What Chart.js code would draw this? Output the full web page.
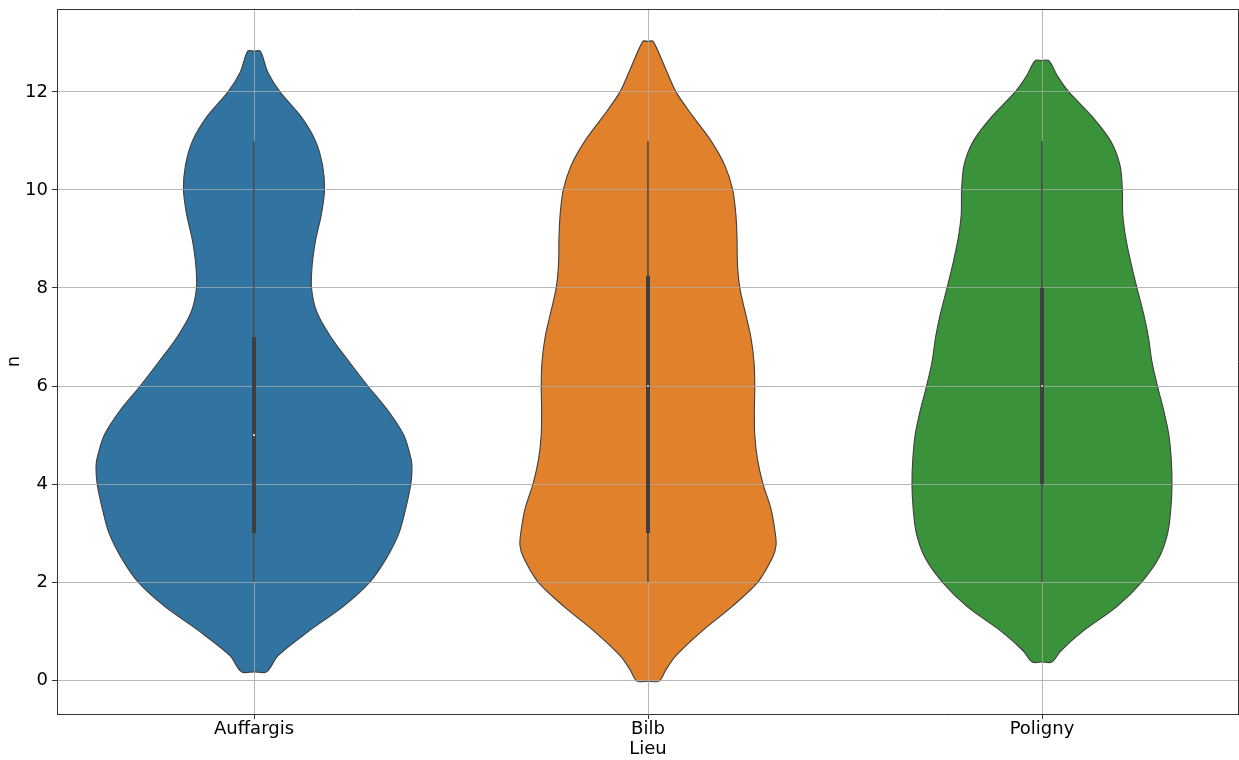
<!DOCTYPE html>
<html>
<head>
<meta charset="utf-8">
<script src="https://cdn.jsdelivr.net/npm/chart.js@4.4.0/dist/chart.umd.min.js"></script>
<style>
  html, body { margin: 0; padding: 0; background: #fff; overflow: hidden; }
  canvas { display: block; }
</style>
</head>
<body>
<canvas id="violin" width="1239" height="760"></canvas>
<script>
"use strict";

// categories on the x axis
var categories = ["Auffargis", "Bilb", "Poligny"];
var colors = ["#3274a1", "#e1812c", "#3a923a"];
var yTicks = [0, 2, 4, 6, 8, 10, 12];

// kde outline: n levels (bottom to top) and half widths in category units
var auffargisN = [0.17, 0.5, 1.0, 1.5, 2.0, 2.5, 3.0, 3.5, 4.0, 4.3, 4.5, 5.0, 5.5, 6.0, 6.5, 7.0, 7.5, 8.0, 8.5, 9.0, 9.5, 10.0, 10.5, 11.0, 11.5, 12.0, 12.4, 12.83];
var auffargisW = [0.032, 0.061, 0.139, 0.226, 0.294, 0.337, 0.368, 0.385, 0.398, 0.401, 0.399, 0.380, 0.340, 0.289, 0.241, 0.195, 0.160, 0.146, 0.148, 0.157, 0.171, 0.179, 0.174, 0.156, 0.119, 0.066, 0.035, 0.016];

var bilbN = [-0.02, 0.22, 0.5, 1.0, 1.5, 2.0, 2.5, 2.75, 3.0, 3.5, 4.0, 4.5, 5.0, 5.5, 6.0, 6.5, 7.0, 7.5, 8.0, 8.5, 9.0, 9.5, 10.0, 10.5, 11.0, 11.5, 12.0, 12.5, 13.03];
var bilbW = [0.028, 0.046, 0.071, 0.137, 0.213, 0.279, 0.316, 0.325, 0.323, 0.312, 0.292, 0.278, 0.271, 0.270, 0.271, 0.269, 0.261, 0.247, 0.233, 0.227, 0.226, 0.223, 0.215, 0.195, 0.160, 0.114, 0.071, 0.043, 0.013];

var polignyN = [0.37, 0.6, 1.0, 1.5, 2.0, 2.5, 3.0, 3.5, 4.0, 4.5, 5.0, 5.5, 6.0, 6.5, 7.0, 7.5, 8.0, 8.5, 9.0, 9.5, 10.0, 10.5, 11.0, 11.5, 12.0, 12.3, 12.64];
var polignyW = [0.025, 0.048, 0.104, 0.190, 0.253, 0.297, 0.319, 0.327, 0.330, 0.328, 0.322, 0.309, 0.293, 0.279, 0.270, 0.257, 0.241, 0.226, 0.213, 0.205, 0.204, 0.198, 0.174, 0.127, 0.068, 0.041, 0.017];

// inner box: whiskers, quartiles, median
var whiskerLow = [2, 2, 2];
var q1 = [3, 3, 4];
var median = [5, 6, 6];
var q3 = [7, 8.25, 8];
var whiskerHigh = [11, 11, 11];

var levels = [auffargisN, bilbN, polignyN];
var widths = [auffargisW, bilbW, polignyW];

// closed outline starting at the bottom cap centre, up the right side,
// across the top cap, down the left side
function outline(c, ys, ws) {
    var n = ys.length;
    var right = ys.map(function (y, i) { return {x: c + ws[i], y: y}; });
    var left = ys.map(function (y, i) { return {x: c - ws[i], y: y}; }).reverse();
    var pts = [{x: c, y: ys[0]}].concat(right);
    pts.push({x: c, y: ys[n - 1]});
    pts = pts.concat(left);
    pts.push({x: c, y: ys[0]});
    return pts;
}

var datasets = [];

categories.forEach(function (name, c) {
    datasets.push({
        data: outline(c, levels[c], widths[c]),
        backgroundColor: colors[c],
        borderColor: "#3f3f3f",
        borderWidth: 1.1,
        fill: "shape",
        tension: 0.3,
        pointRadius: 0,
        order: 3
    });
    datasets.push({
        data: [{x: c, y: whiskerLow[c]}, {x: c, y: whiskerHigh[c]}],
        borderColor: "#3f3f3f",
        borderWidth: 1.4,
        pointRadius: 0,
        fill: false,
        order: 2
    });
    datasets.push({
        data: [{x: c, y: q1[c]}, {x: c, y: q3[c]}],
        borderColor: "#3f3f3f",
        borderWidth: 4,
        borderCapStyle: "butt",
        pointRadius: 0,
        fill: false,
        order: 1
    });
    datasets.push({
        data: [{x: c, y: median[c]}],
        showLine: false,
        pointStyle: "rect",
        pointRadius: 1.2,
        pointBackgroundColor: "#ffffff",
        pointBorderWidth: 0,
        order: 0
    });
});

// grid sits over the violin bodies but under the box lines
var gridOverViolins = {
    id: "gridOverViolins",
    beforeDatasetsDraw: function (chart) { chart.$gridDone = false; },
    beforeDatasetDraw: function (chart, args) {
        if (!chart.$gridDone && chart.data.datasets[args.index].order < 3) {
            chart.scales.x.drawGrid(chart.chartArea);
            chart.scales.y.drawGrid(chart.chartArea);
            chart.$gridDone = true;
        }
    },
    afterDraw: function (chart) {
        var a = chart.chartArea, ctx = chart.ctx;
        ctx.save();
        ctx.strokeStyle = "#333";
        ctx.lineWidth = 1;
        ctx.beginPath();
        ctx.moveTo(a.left, a.top + 0.5);
        ctx.lineTo(a.right, a.top + 0.5);
        ctx.moveTo(a.right - 0.5, a.top);
        ctx.lineTo(a.right - 0.5, a.bottom);
        ctx.stroke();
        ctx.restore();
    }
};

Chart.defaults.font.family = "'DejaVu Sans', sans-serif";
Chart.defaults.font.size = 18;
Chart.defaults.color = "#000";

var gridColor = "rgba(176,176,176,0.7)";

var ctx = document.getElementById("violin").getContext("2d");
var chart = new Chart(ctx, {
    type: "line",
    data: {datasets: datasets},
    plugins: [gridOverViolins],
    options: {
        responsive: false,
        animation: false,
        layout: {autoPadding: false, padding: {top: 9, right: 0, left: 0, bottom: 0}},
        plugins: {legend: {display: false}, tooltip: {enabled: false}},
        scales: {
            x: {
                type: "linear",
                min: -0.5,
                max: 2.5,
                afterBuildTicks: function (scale) {
                    scale.ticks = categories.map(function (n, i) { return {value: i}; });
                },
                afterFit: function (scale) {
                    scale.height = 46;
                    scale.paddingLeft = 0;
                    scale.paddingRight = 0;
                },
                ticks: {
                    autoSkip: false,
                    maxRotation: 0,
                    padding: 0,
                    callback: function (v) { return categories[v]; }
                },
                grid: {color: gridColor, lineWidth: 1, tickLength: 5, tickColor: "#333"},
                border: {color: "#333", width: 1},
                title: {display: true, text: "Lieu", padding: {top: 0, bottom: 0}}
            },
            y: {
                min: -0.69,
                max: 13.69,
                afterBuildTicks: function (scale) {
                    scale.ticks = yTicks.map(function (v) { return {value: v}; });
                },
                afterFit: function (scale) {
                    scale.width = 57;
                    scale.paddingTop = 0;
                    scale.paddingBottom = 0;
                },
                ticks: {padding: 4},
                grid: {color: gridColor, lineWidth: 1, tickLength: 5, tickColor: "#333"},
                border: {color: "#333", width: 1},
                title: {display: true, text: "n", padding: {top: 4, bottom: 0}}
            }
        }
    }
});
</script>
</body>
</html>
